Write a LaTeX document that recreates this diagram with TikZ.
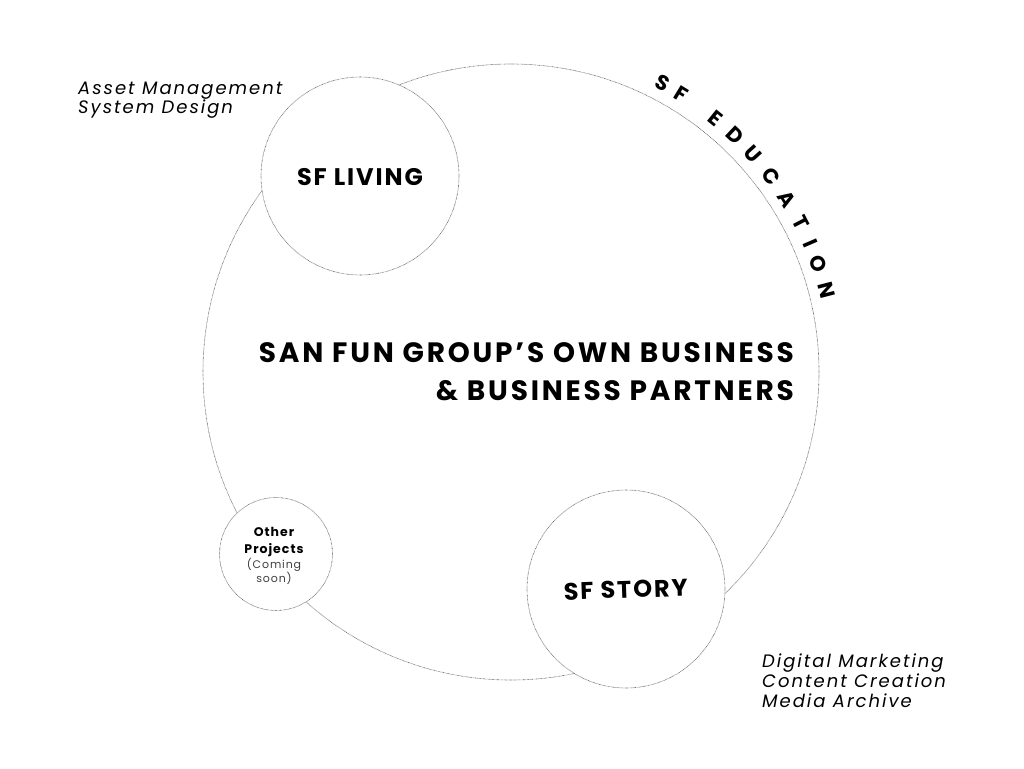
\documentclass[tikz,border=0pt]{standalone}
\usepackage{fontspec}
\setmainfont{Poppins}
\newfontfamily\spacedfont{Poppins}[LetterSpace=8]
\newfontfamily\notefont{Poppins}[LetterSpace=11]
\newfontfamily\widefont{Poppins}[LetterSpace=10]
\usetikzlibrary{calc}
\begin{document}
\begin{tikzpicture}[x=1pt,y=-1pt,
  ring/.style={circle, draw=black!65, line width=0.6pt, dash pattern=on 0.6pt off 0.7pt, inner sep=0pt, fill=white},
  note/.style={font=\fontsize{18}{20}\selectfont\notefont\itshape, align=left, inner sep=0pt},
  title/.style={font=\fontsize{24}{26}\selectfont\spacedfont\bfseries, inner sep=0pt},
  eduletter/.style={font=\fontsize{21}{22}\selectfont\bfseries, inner sep=0pt}]
\useasboundingbox (0,0) rectangle (1024,768);
\fill[white] (0,0) rectangle (1024,768);
% main ring
\node[ring, fill=none, minimum size=616pt] (big) at (511,372) {};
% satellite circles
\node[ring, minimum size=198pt] (living) at (360,176) {};
\node[ring, minimum size=198pt] (story) at (626,589) {};
\node[ring, minimum size=113pt] (other) at (276,554) {};
% labels in circles
\node[title, anchor=base] (livingtxt) at (360,185) {SF LIVING};
\node[title, anchor=base, rotate=2] (storytxt) at (626,598) {SF STORY};
\node[font=\fontsize{12.5}{17}\selectfont\spacedfont\bfseries, inner sep=0pt, anchor=base] (othertxt1) at (274,536) {Other};
\node[font=\fontsize{12.5}{17}\selectfont\spacedfont\bfseries, inner sep=0pt, anchor=base] (othertxt2) at (274,553) {Projects};
\node[font=\fontsize{11}{13}\selectfont\spacedfont, text=black!75, inner sep=0pt, anchor=base] (othertxt3) at (274,568) {(Coming};
\node[font=\fontsize{11}{13}\selectfont\spacedfont, text=black!75, inner sep=0pt, anchor=base] (othertxt4) at (274,582) {soon)};
% central text
\node[font=\fontsize{28}{38}\selectfont\widefont\bfseries, inner sep=0pt, anchor=base east] (center1) at (794,362)
  {SAN FUN GROUP’S OWN BUSINESS};
\node[font=\fontsize{28}{38}\selectfont\widefont\bfseries, inner sep=0pt, anchor=base east] (center2) at (794,400)
  {\& BUSINESS PARTNERS};
% side notes
\node[note, anchor=base west] (asset1) at (78,94) {Asset Management};
\node[note, anchor=base west] (asset2) at (78,113) {System Design};
\node[note, anchor=base west] (digital1) at (762,667) {Digital Marketing};
\node[note, anchor=base west] (digital2) at (762,687) {Content Creation};
\node[note, anchor=base west] (digital3) at (762,707) {Media Archive};
% SF EDUCATION along the arc
\foreach \ch/\ang [count=\i] in {S/62.3, F/58.6, E/51.1, D/46.6, U/42.0, C/36.9, A/32.1, T/27.3, I/23.3, O/19.3, N/14.5}
  \node[eduletter, rotate=\ang-90] (edu\i) at ($(big.center)+(-\ang:326)$) {\ch};
\end{tikzpicture}
\end{document}
